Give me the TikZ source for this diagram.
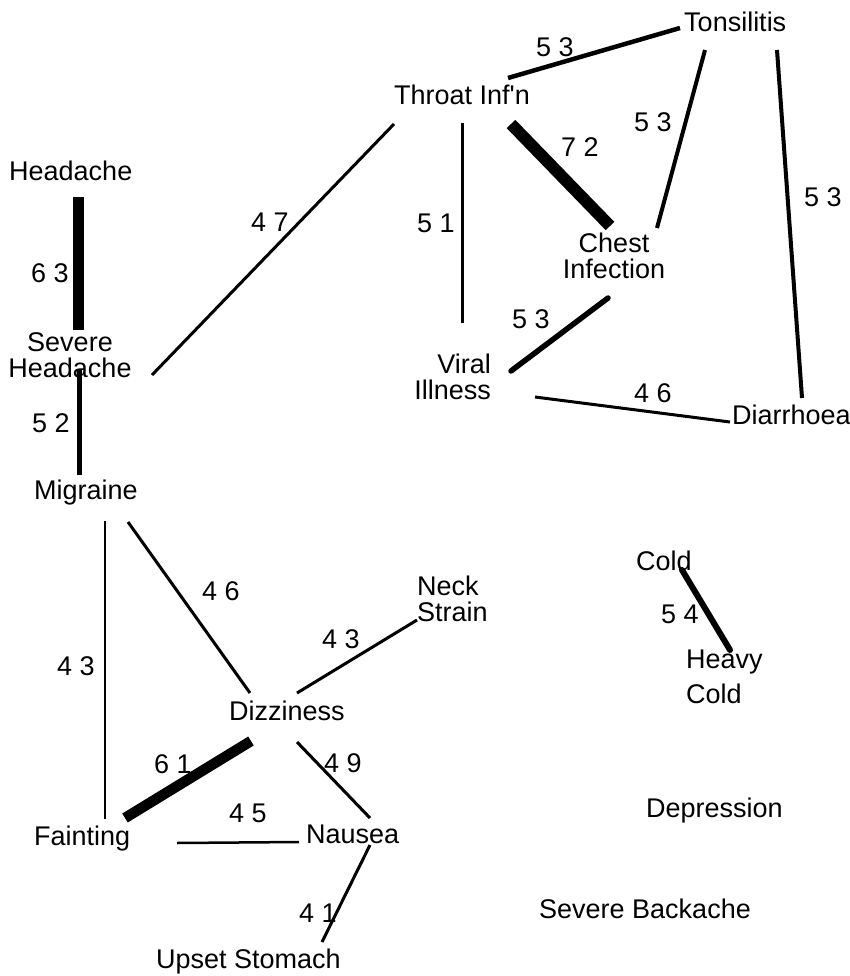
\documentclass[tikz,border=0pt]{standalone}
\usepackage{fontspec}
\setmainfont{Liberation Sans}[Ligatures=TeXOff]
\begin{document}
\begin{tikzpicture}[x=1pt,y=-1pt,
  term/.style={inner sep=0pt, font=\fontsize{27}{26}\selectfont},
  wlabel/.style={anchor=base west, inner sep=0pt, font=\fontsize{27}{26}\selectfont},
  link/.style={line width=#1, black},
  link/.default=3pt]
\useasboundingbox (0,0) rectangle (850,976);

% symptom terms
\node[term, anchor=base west] (tons) at (684,32) {Tonsilitis};
\node[term, anchor=base west] (throat) at (394,105) {Throat Inf'n};
\node[term, anchor=base west] (head) at (9,181) {Headache};
\node[term, align=center] (severe) at (70,355) {Severe\\Headache};
\node[term, align=center] (chest) at (614,256) {Chest\\Infection};
\node[term, align=right, anchor=east] (viral) at (491,377) {Viral\\Illness};
\node[term, anchor=base west] (diar) at (732,424) {Diarrhoea};
\node[term, anchor=base west] (mig) at (34,499) {Migraine};
\node[term, align=left, anchor=west] (neck) at (417,599) {Neck\\Strain};
\node[term, anchor=base west] (dizzy) at (229,720) {Dizziness};
\node[term, anchor=base west] (faint) at (34,845) {Fainting};
\node[term, anchor=base west] (nausea) at (306,843) {Nausea};
\node[term, anchor=base west] (upset) at (156,968) {Upset Stomach};
\node[term, anchor=base west] (cold) at (636,570) {Cold};
\node[term, align=left, anchor=west, font=\fontsize{27}{35}\selectfont] (heavy) at (686,677) {Heavy\\Cold};
\node[term, anchor=base west] (depr) at (646,817) {Depression};
\node[term, anchor=base west] (back) at (539,918) {Severe Backache};

% connector end points
\coordinate (throat-t) at (508,78);   \coordinate (tons-th) at (680,28);
\coordinate (throat-c) at (511,124);  \coordinate (chest-th) at (610,226);
\coordinate (tons-c) at (705,50);     \coordinate (chest-t) at (657,228);
\coordinate (tons-d) at (777,50);     \coordinate (diar-t) at (802,398);
\coordinate (throat-v) at (462,123);  \coordinate (viral-th) at (462,323);
\coordinate (chest-v) at (608,298);   \coordinate (viral-c) at (511,371);
\coordinate (viral-d) at (535,397);   \coordinate (diar-v) at (730,422);
\coordinate (head-s) at (78.5,197);   \coordinate (severe-h) at (78.5,330);
\coordinate (severe-m) at (79,370);   \coordinate (mig-s) at (79,475);
\coordinate (severe-t) at (152,375);  \coordinate (throat-s) at (394,124);
\coordinate (mig-f) at (105,521);     \coordinate (faint-m) at (105,819);
\coordinate (mig-d) at (128,522);     \coordinate (dizzy-m) at (250,693);
\coordinate (dizzy-n) at (297,693);   \coordinate (neck-d) at (417,620);
\coordinate (dizzy-f) at (251,741);   \coordinate (faint-d) at (125,818);
\coordinate (dizzy-na) at (297,742);  \coordinate (nausea-d) at (370,818);
\coordinate (faint-n) at (177,843);   \coordinate (nausea-f) at (299,842);
\coordinate (nausea-u) at (370,845);  \coordinate (upset-n) at (322,942);
\coordinate (cold-h) at (682,570);    \coordinate (heavy-c) at (730,650);

% associations, line width by strength
\draw[link=4.5pt] (throat-t) -- (tons-th);
\draw[link=12pt] (throat-c) -- (chest-th);
\draw[link=4pt] (tons-c) -- (chest-t);
\draw[link=4pt] (tons-d) -- (diar-t);
\draw[link=3pt] (throat-v) -- (viral-th);
\draw[link=5.5pt, line cap=round] (chest-v) -- (viral-c);
\draw[link=3pt] (viral-d) -- (diar-v);
\draw[link=10.5pt] (head-s) -- (severe-h);
\draw[link=5pt] (severe-m) -- (mig-s);
\draw[link=3pt] (severe-t) -- (throat-s);
\draw[link=2pt] (mig-f) -- (faint-m);
\draw[link=3pt] (mig-d) -- (dizzy-m);
\draw[link=3pt] (dizzy-n) -- (neck-d);
\draw[link=10.5pt] (dizzy-f) -- (faint-d);
\draw[link=3pt] (dizzy-na) -- (nausea-d);
\draw[link=2.5pt] (faint-n) -- (nausea-f);
\draw[link=3pt] (nausea-u) -- (upset-n);
\draw[link=6pt, line cap=round] (cold-h) -- (heavy-c);

% strength labels
\node[wlabel] (l1) at (536,57) {5 3};
\node[wlabel] (l2) at (561,157) {7 2};
\node[wlabel] (l3) at (634,132) {5 3};
\node[wlabel] (l4) at (804,207) {5 3};
\node[wlabel] (l5) at (417,233) {5 1};
\node[wlabel] (l6) at (512,328) {5 3};
\node[wlabel] (l7) at (634,402) {4 6};
\node[wlabel] (l8) at (31,282) {6 3};
\node[wlabel] (l9) at (32,432) {5 2};
\node[wlabel] (l10) at (251,232) {4 7};
\node[wlabel] (l11) at (57,675) {4 3};
\node[wlabel] (l12) at (202,600) {4 6};
\node[wlabel] (l13) at (322,648) {4 3};
\node[wlabel] (l14) at (154,773) {6 1};
\node[wlabel] (l15) at (324,772) {4 9};
\node[wlabel] (l16) at (229,822) {4 5};
\node[wlabel] (l17) at (299,922) {4 1};
\node[wlabel] (l18) at (661,623) {5 4};
\end{tikzpicture}
\end{document}
